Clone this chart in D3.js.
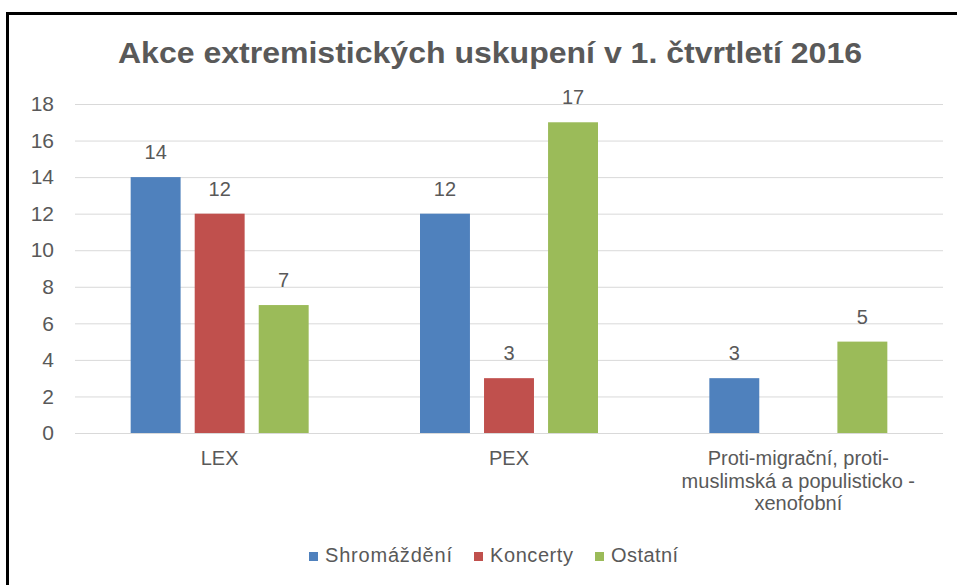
<!DOCTYPE html>
<html>
<head>
<meta charset="utf-8">
<script src="https://cdn.jsdelivr.net/npm/d3@7"></script>
<style>
  body { margin: 0; background: #fff; }
  text { font-family: "Liberation Sans", Arial, sans-serif; fill: #595959; }
</style>
</head>
<body>
<script>
const svgWidth = 957, svgHeight = 585;
// data
const categories = ["LEX", "PEX", "Proti-migrační, proti-|muslimská a populisticko -|xenofobní"];
const seriesNames = ["Shromáždění", "Koncerty", "Ostatní"];
const seriesColors = ["#4F81BD", "#C0504D", "#9BBB59"];
const shromazdeni = [14, 12, 3];
const koncerty = [12, 3, null];
const ostatni = [7, 17, 5];
const yTicks = [0, 2, 4, 6, 8, 10, 12, 14, 16, 18];
const seriesValues = [shromazdeni, koncerty, ostatni];

const svg = d3.select("body").append("svg")
  .attr("width", svgWidth)
  .attr("height", svgHeight);

// frame
svg.append("rect")
  .attr("x", 7.5).attr("y", 13.5)
  .attr("width", 960).attr("height", 600)
  .attr("fill", "none").attr("stroke", "#000").attr("stroke-width", 3);

const plotLeft = 75, plotRight = 943, plotTop = 104, plotBottom = 433;

const x0 = d3.scaleBand().domain(categories).range([plotLeft, plotRight]);
const x1 = d3.scaleBand().domain(seriesNames).range([0, 178]).paddingInner(0.22);
const yScale = d3.scaleLinear().domain([0, 18]).range([plotBottom, plotTop]);

// title
svg.append("text")
  .attr("x", 118).attr("y", 63)
  .attr("textLength", 744).attr("lengthAdjust", "spacingAndGlyphs")
  .style("font-size", "29px").style("font-weight", "bold")
  .text("Akce extremistických uskupení v 1. čtvrtletí 2016");

// gridlines
svg.append("g").selectAll("line").data(yTicks).join("line")
  .attr("x1", plotLeft).attr("x2", plotRight)
  .attr("y1", d => yScale(d) + 0.5).attr("y2", d => yScale(d) + 0.5)
  .attr("stroke", "#D9D9D9").attr("stroke-width", 1);

// y axis labels
const yAxis = d3.axisLeft(yScale).tickValues(yTicks).tickSize(0).tickPadding(0);
const yg = svg.append("g").attr("transform", "translate(54,0)").call(yAxis);
yg.select(".domain").remove();
yg.selectAll("text").style("font-size", "21px").style("fill", "#595959").style("font-family", "Liberation Sans, Arial, sans-serif");

// bars
const groups = svg.append("g").selectAll("g").data(categories).join("g")
  .attr("transform", d => "translate(" + (x0(d) + (x0.bandwidth() - 178) / 2) + ",0)");

seriesNames.forEach((s, si) => {
  groups.each(function(c, ci) {
    const v = seriesValues[si][ci];
    if (v == null) return;
    const g = d3.select(this);
    g.append("rect")
      .attr("x", x1(s)).attr("width", x1.bandwidth())
      .attr("y", yScale(v)).attr("height", yScale(0) - yScale(v))
      .attr("fill", seriesColors[si]);
    g.append("text")
      .attr("x", x1(s) + x1.bandwidth() / 2)
      .attr("y", yScale(v) - 18)
      .attr("text-anchor", "middle")
      .style("font-size", "20px")
      .text(v);
  });
});

// category labels
categories.forEach(c => {
  const lines = c.split("|");
  const cx = x0(c) + x0.bandwidth() / 2;
  const t = svg.append("text")
    .attr("x", cx)
    .attr("y", 465)
    .attr("text-anchor", "middle")
    .style("font-size", "20px");
  lines.forEach((l, i) => {
    t.append("tspan").attr("x", cx).attr("dy", i === 0 ? 0 : 22.5).text(l);
  });
});

// legend
const legendX = [309, 474, 595];
const legendW = [127, 83, 67];
seriesNames.forEach((s, i) => {
  svg.append("rect")
    .attr("x", legendX[i]).attr("y", 552)
    .attr("width", 9).attr("height", 9)
    .attr("fill", seriesColors[i]);
  svg.append("text")
    .attr("x", legendX[i] + 16).attr("y", 562)
    .attr("textLength", legendW[i]).attr("lengthAdjust", "spacing")
    .style("font-size", "20px")
    .text(s);
});
</script>
</body>
</html>
